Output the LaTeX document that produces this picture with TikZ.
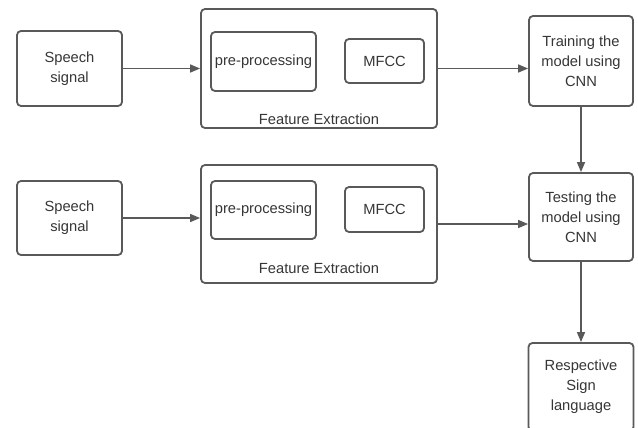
\documentclass[tikz,border=0pt]{standalone}
\usepackage{fontspec}
\setmainfont{Liberation Sans}
\usetikzlibrary{arrows.meta}
\definecolor{edgegray}{HTML}{595959}
\definecolor{textgray}{HTML}{363636}
\tikzset{
  blockbox/.style={draw=edgegray, line width=1.8pt, rounded corners=4pt,
    inner sep=0pt, align=center, text=textgray,
    font=\fontsize{14.7}{20}\selectfont},
  groupbox/.style={blockbox},
  grouplabel/.style={inner sep=0pt, text=textgray, font=\fontsize{14.7}{20}\selectfont},
  flow/.style={draw=edgegray, line width=1.4pt,
    -{Triangle[length=10pt,width=8pt]}}
}
\begin{document}
\begin{tikzpicture}[x=1pt,y=-1pt]
  \useasboundingbox[fill=white] (0,0) rectangle (638,428);

  % training branch
  \node[blockbox, minimum width=105pt, minimum height=75pt] (s1) at (69.5,68.5) {Speech\\signal};
  \node[groupbox, minimum width=236pt, minimum height=119pt] (f1) at (319,68.5) {};
  \node[grouplabel] (l1) at (319,119) {Feature Extraction};
  \node[blockbox, minimum width=105pt, minimum height=59pt] (p1) at (263.5,61.5) {pre-processing};
  \node[blockbox, minimum width=79pt, minimum height=44pt] (m1) at (384.5,61) {MFCC};
  \node[blockbox, minimum width=104pt, minimum height=90pt] (tr) at (581,61) {Training the\\model using\\CNN};

  % testing branch
  \node[blockbox, minimum width=105pt, minimum height=74pt] (s2) at (69.5,218) {Speech\\signal};
  \node[groupbox, minimum width=236pt, minimum height=118pt] (f2) at (319,224) {};
  \node[grouplabel] (l2) at (319,268) {Feature Extraction};
  \node[blockbox, minimum width=105pt, minimum height=58pt] (p2) at (263.5,210) {pre-processing};
  \node[blockbox, minimum width=79pt, minimum height=45pt] (m2) at (384.5,209.5) {MFCC};
  \node[blockbox, minimum width=104pt, minimum height=88pt] (te) at (581,217) {Testing the\\model using\\CNN};

  % output
  \node[blockbox, minimum width=105pt, minimum height=88pt] (out) at (581,387) {Respective\\Sign\\language};

  % connectors
  \draw[flow] (s1.east) -- (s1.east -| f1.west);
  \draw[flow] (f1.east) -- (f1.east -| tr.west);
  \draw[flow] (s2.east) -- (s2.east -| f2.west);
  \draw[flow] (f2.east) -- (f2.east -| te.west);
  \draw[flow] (tr.south) -- (te.north);
  \draw[flow] (te.south) -- (out.north);
\end{tikzpicture}
\end{document}
